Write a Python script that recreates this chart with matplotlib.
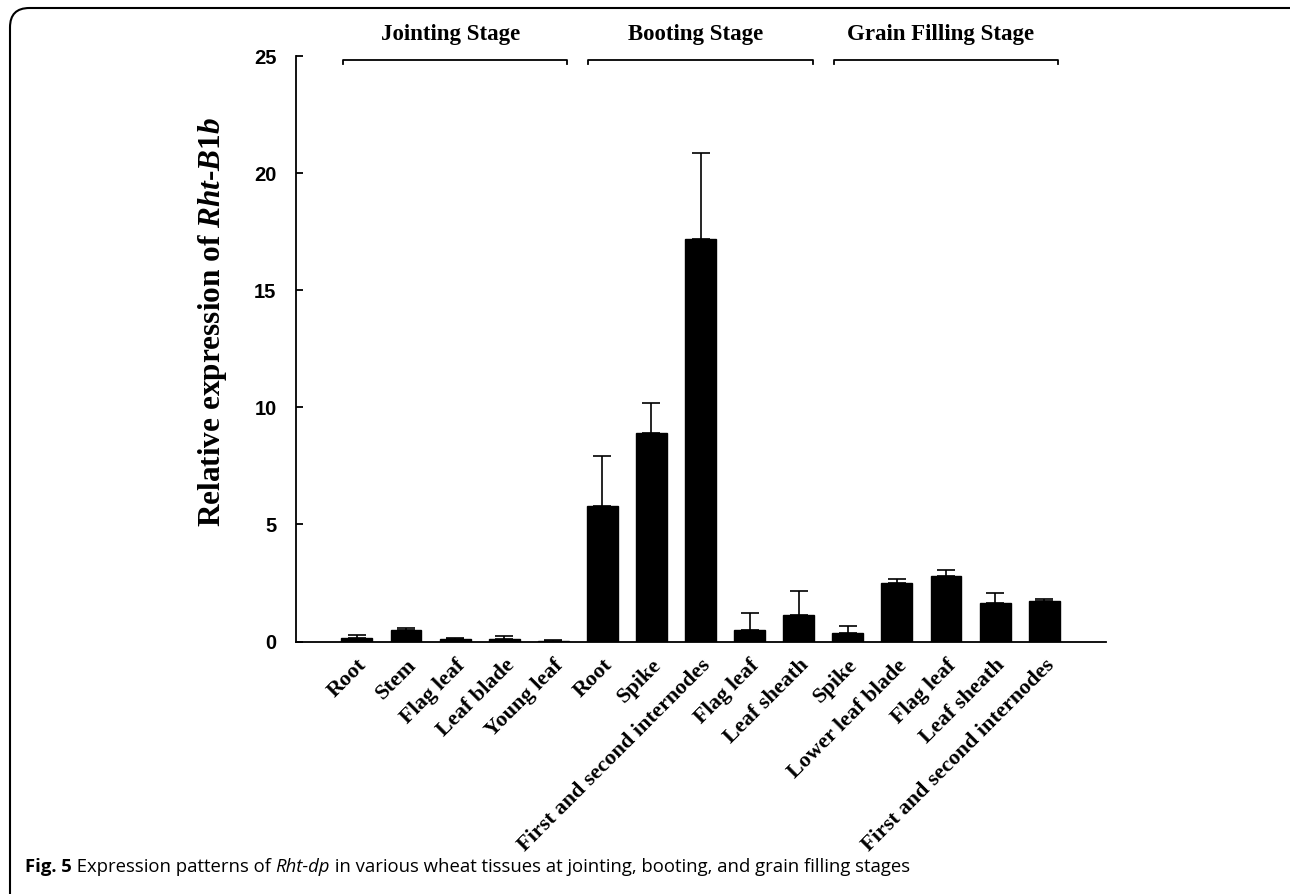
import matplotlib.pyplot as plt
from matplotlib.patches import FancyBboxPatch
import numpy as np

# tissues along the x axis, in order
tissues = ['Root', 'Stem', 'Flag leaf', 'Leaf blade', 'Young leaf',
           'Root', 'Spike', 'First and second internodes', 'Flag leaf', 'Leaf sheath',
           'Spike', 'Lower leaf blade', 'Flag leaf', 'Leaf sheath', 'First and second internodes']
expression = [0.14, 0.51, 0.10, 0.12, 0.04,
              5.79, 8.89, 17.2, 0.47, 1.14,
              0.37, 2.51, 2.81, 1.64, 1.71]
error = [0.12, 0.06, 0.07, 0.10, 0.01,
         2.11, 1.31, 3.65, 0.73, 1.00,
         0.30, 0.14, 0.24, 0.43, 0.10]
stages = ['Jointing Stage', 'Booting Stage', 'Grain Filling Stage']
stage_start = [0, 5, 10]
stage_size = 5

yticks = [0, 5, 10, 15, 20, 25]

SERIF = 'Liberation Serif'
SANS = 'Liberation Sans'

plt.rcParams['mathtext.fontset'] = 'custom'
plt.rcParams['mathtext.rm'] = 'Liberation Serif:bold'
plt.rcParams['mathtext.bf'] = 'Liberation Serif:bold'
plt.rcParams['mathtext.it'] = 'Liberation Serif:italic:bold'
plt.rcParams['mathtext.bfit'] = 'Liberation Serif:italic:bold'

fig = plt.figure(figsize=(12.9, 8.94), dpi=100)
ax = fig.add_axes([296 / 1290, (894 - 641.5) / 894, 810 / 1290, 585.5 / 894])

x = np.arange(len(tissues))
ax.bar(x, expression, width=0.63, color='black', edgecolor='black',
       yerr=[np.zeros(len(error)), error],
       error_kw=dict(ecolor='black', elinewidth=1.2, capsize=6.5, capthick=1.2))

ax.set_xlim(-1.24, 15.26)
ax.set_ylim(0, 25)
ax.set_yticks(yticks)
ax.set_yticklabels([str(t) for t in yticks], fontfamily=SANS, fontweight='bold', fontsize=14.5)
ax.set_xticks(x)
ax.set_xticklabels(tissues, rotation=45, ha='right', va='top', rotation_mode='anchor',
                   fontfamily=SERIF, fontweight='bold', fontsize=16)
ax.tick_params(axis='x', length=0, pad=10)
ax.tick_params(axis='y', direction='in', length=5, width=1.3, pad=14)

for s in ['top', 'right']:
    ax.spines[s].set_visible(False)
for s in ['left', 'bottom']:
    ax.spines[s].set_linewidth(1.3)

ax.set_ylabel('Relative expression of $\\mathit{Rht}$-$\\mathit{B1b}$',
              fontfamily=SERIF, fontweight='bold', fontsize=22.5)
ax.yaxis.set_label_coords(-0.083, 0.545)

# stage brackets above the bars
for name, st in zip(stages, stage_start):
    x0 = st - 0.29
    x1 = st + stage_size - 1 + 0.29
    ax.plot([x0, x0, x1, x1], [24.65, 24.82, 24.82, 24.65], color='black', lw=1.3,
            clip_on=False)
    ax.text((x0 + x1) / 2 - 0.1, 25.9, name, ha='center', va='center',
            fontfamily=SERIF, fontweight='bold', fontsize=16.5)

# page frame
frame = FancyBboxPatch((10 / 1290, -0.1), 1.2, 1.1 - 8 / 894,
                       boxstyle='round,pad=0,rounding_size=0.015',
                       transform=fig.transFigure, fill=False, ec='black', lw=1.5,
                       mutation_aspect=1290 / 894)
fig.add_artist(frame)

# caption, pieces chained one after another
prev = fig.text(25 / 1290, (894 - 872) / 894, 'Fig. 5', fontfamily='Open Sans',
                fontweight='bold', fontsize=13.3, va='baseline')
parts = [(' Expression patterns of ', 'normal'), ('Rht-dp', 'italic'),
         (' in various wheat tissues at jointing, booting, and grain filling stages', 'normal')]
for txt, style in parts:
    prev = ax.annotate(txt, xy=(1, 0), xycoords=prev, va='bottom', ha='left',
                       fontfamily='Open Sans', fontstyle=style, fontsize=13.3,
                       annotation_clip=False)

fig.savefig('out.png', dpi=100)
